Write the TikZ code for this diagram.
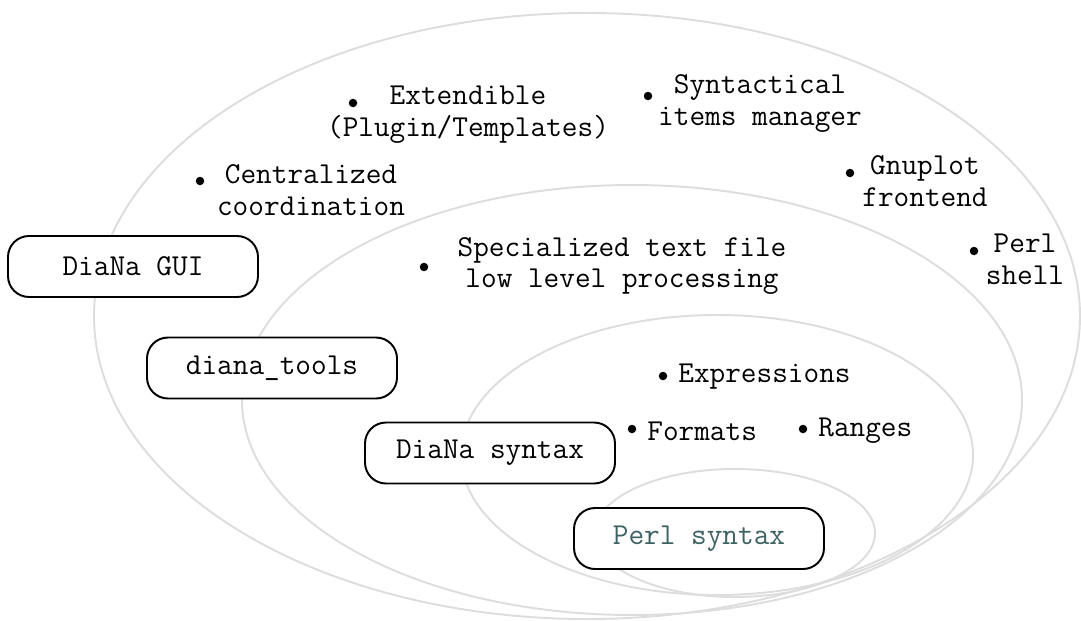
\documentclass[tikz,border=0pt]{standalone}
\usepackage{tikz}
\usetikzlibrary{shapes,backgrounds,positioning,calc}
\usepackage{xcolor}
\definecolor{ringgray}{HTML}{DDDDDD}
\definecolor{perlteal}{HTML}{3E6262}

\begin{document}
\begin{tikzpicture}[
    ring/.style={draw=ringgray, line width=1.1pt},
    layerbox/.style={draw=black, line width=1.1pt, fill=white, rounded corners=0.42cm,
      minimum width=5.0cm, minimum height=1.22cm, inner sep=0pt},
    dot/.style={circle, fill=black, inner sep=0pt, minimum size=0.17cm},
    lbl/.style={align=center, inner sep=0pt},
    every node/.style={font=\ttfamily\fontsize{17.3}{18.2}\selectfont}
  ]
  \useasboundingbox (0,0) rectangle (21.62,12.4);
  % nested layers
  \draw[ring] (11.74,6.08) ellipse (9.86 and 6.06);
  \draw[ring] (12.64,4.40) ellipse (7.80 and 4.30);
  \draw[ring] (14.34,3.30) ellipse (5.12 and 2.80);
  \draw[ring] (14.70,1.74) ellipse (2.80 and 1.28);
  % layer names
  \node[layerbox] (gui) at (2.66,7.07) {DiaNa GUI};
  \node[layerbox] (tools) at (5.44,5.04) {diana\_tools};
  \node[layerbox] (dsyntax) at (9.80,3.34) {DiaNa syntax};
  \node[layerbox, text=perlteal] (psyntax) at (13.98,1.63) {Perl syntax};
  % features of the GUI
  \node[dot] (cendot) at (4.00,8.78) {};
  \node[lbl] (cen) at (6.22,8.60) {Centralized\\coordination};
  \node[dot] (extdot) at (7.06,10.34) {};
  \node[lbl] (ext) at (9.36,10.10) {Extendible\\(Plugin/Templates)};
  \node[dot] (syndot) at (12.96,10.48) {};
  \node[lbl] (syn) at (15.20,10.32) {Syntactical\\items manager};
  \node[dot] (gnudot) at (17.00,8.94) {};
  \node[lbl] (gnu) at (18.50,8.78) {Gnuplot\\frontend};
  \node[dot] (shelldot) at (19.48,7.38) {};
  \node[lbl] (shell) at (20.50,7.22) {Perl\\shell};
  % features of the tools
  \node[dot] (specdot) at (8.48,7.06) {};
  \node[lbl] (spec) at (12.44,7.08) {Specialized text file\\low level processing};
  % features of the syntax
  \node[dot] (exprdot) at (13.26,4.88) {};
  \node[lbl, anchor=west] (expr) at (13.56,4.86) {Expressions};
  \node[dot] (fmtdot) at (12.64,3.82) {};
  \node[lbl, anchor=west] (fmt) at (12.94,3.78) {Formats};
  \node[dot] (rngdot) at (16.06,3.82) {};
  \node[lbl, anchor=west] (rng) at (16.36,3.78) {Ranges};
\end{tikzpicture}
\end{document}
